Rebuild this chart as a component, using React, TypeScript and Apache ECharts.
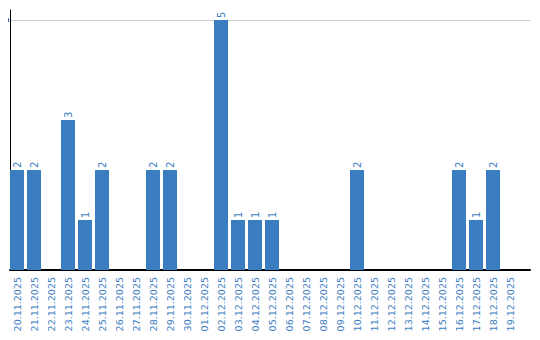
import React, { useEffect, useRef } from "react";
import * as echarts from "echarts";

const categories = [
  "20.11.2025", "21.11.2025", "22.11.2025", "23.11.2025", "24.11.2025",
  "25.11.2025", "26.11.2025", "27.11.2025", "28.11.2025", "29.11.2025",
  "30.11.2025", "01.12.2025", "02.12.2025", "03.12.2025", "04.12.2025",
  "05.12.2025", "06.12.2025", "07.12.2025", "08.12.2025", "09.12.2025",
  "10.12.2025", "11.12.2025", "12.12.2025", "13.12.2025", "14.12.2025",
  "15.12.2025", "16.12.2025", "17.12.2025", "18.12.2025", "19.12.2025",
];
const values = [
  2, 2, 0, 3, 1, 2, 0, 0, 2, 2,
  0, 0, 5, 1, 1, 1, 0, 0, 0, 0,
  2, 0, 0, 0, 0, 0, 2, 1, 2, 0,
];
const yTickLabels = [5];
const yMax = 5;
const yFrameMax = 5.2;

const BLUE = "#3a7dc1";
const FONT = "DejaVu Sans";

export default function App() {
  const ref = useRef<HTMLDivElement>(null);
  useEffect(() => {
    if (!ref.current) return;
    const chart = echarts.init(ref.current, undefined, { renderer: "svg" });
    chart.setOption({
      animation: false,
      grid: [
        { left: 8.5, right: 21.5, top: 20, bottom: 70, containLabel: false, outerBoundsMode: "none" },
        { left: 10, right: 10, top: 10, bottom: 70, containLabel: false, outerBoundsMode: "none" },
      ],
      xAxis: [
        {
          type: "category",
          gridIndex: 0,
          data: categories,
          axisLine: { show: false },
          axisTick: { show: false },
          axisLabel: {
            rotate: 90,
            interval: 0,
            margin: 7,
            color: BLUE,
            fontFamily: FONT,
            fontSize: 9.5,
          },
        },
        {
          type: "value",
          gridIndex: 1,
          min: 0,
          max: 1,
          axisLine: { show: true, onZero: false, lineStyle: { color: "#000", width: 2 } },
          axisTick: { show: false },
          axisLabel: { show: false },
          splitLine: { show: false },
        },
      ],
      yAxis: [
        {
          type: "value",
          gridIndex: 0,
          min: 0,
          max: yMax,
          show: false,
        },
        {
          type: "value",
          gridIndex: 1,
          min: 0,
          max: yFrameMax,
          interval: 5,
          axisLine: { show: true, onZero: false, lineStyle: { color: "#000", width: 1 } },
          axisTick: { show: false },
          splitLine: {
            show: true,
            showMinLine: false,
            showMaxLine: false,
            lineStyle: { color: "#cccccc", width: 1 },
          },
          axisLabel: { show: false },
        },
      ],
      series: [
        {
          type: "bar",
          xAxisIndex: 0,
          yAxisIndex: 0,
          data: values,
          barWidth: 14,
          itemStyle: { color: BLUE },
          label: {
            show: true,
            position: "top",
            rotate: 90,
            align: "left",
            verticalAlign: "middle",
            distance: 2,
            color: BLUE,
            fontFamily: FONT,
            fontSize: 10,
            formatter: (p: any) => (p.value ? String(p.value) : ""),
          },
        },
      ],
    });
    const graphics = yTickLabels.map((v) => {
      let py = Number(chart.convertToPixel({ yAxisIndex: 1 }, v));
      if (!isFinite(py)) py = 20;
      return {
        type: "text",
        left: 1,
        top: py - 3,
        rotation: Math.PI / 2,
        z: 100,
        style: {
          text: String(v),
          fill: "#000",
          fontSize: 9,
          fontFamily: FONT,
        },
      };
    });
    chart.setOption({ graphic: graphics });
    return () => chart.dispose();
  }, []);
  return <div ref={ref} style={{ width: 540, height: 340, margin: -8 }} />;
}
